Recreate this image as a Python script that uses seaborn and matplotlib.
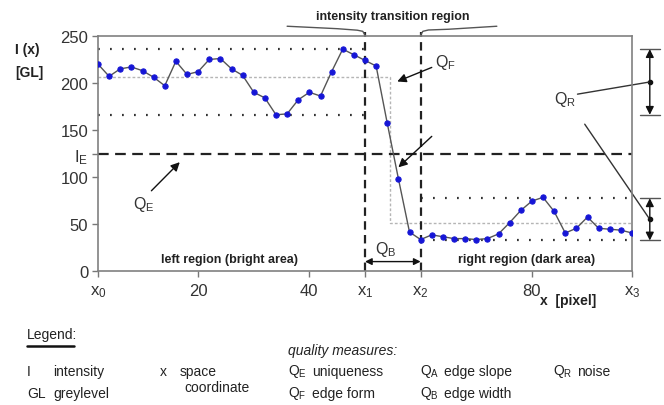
import matplotlib
matplotlib.use("Agg")
import matplotlib.pyplot as plt
import seaborn as sns
from matplotlib.lines import Line2D

sns.set_style("ticks")
plt.rcParams['font.family'] = ['Liberation Sans', 'DejaVu Sans']
plt.rcParams['mathtext.fontset'] = 'custom'
plt.rcParams['mathtext.rm'] = 'Liberation Sans'
plt.rcParams['mathtext.it'] = 'Liberation Sans:italic'
plt.rcParams['mathtext.bf'] = 'Liberation Sans:bold'

# Grey level profile across the edge
pixel = list(range(2, 99, 2))
intensity = [220, 207, 215, 217, 213, 206, 197, 223, 209, 212,
             225, 226, 215, 208, 190, 184, 166, 167, 182, 190,
             186, 212, 236, 230, 224, 218, 157, 98, 41, 33,
             38, 36, 34, 34, 33, 34, 39, 51, 64, 74,
             78, 63, 40, 45, 57, 45, 44, 43, 40]

# region borders and levels
x0, x1, x2, x3 = 2, 50, 60, 98
step_x = 54.5
left_max, left_mean, left_min = 236, 206, 166
right_max, right_mean, right_min = 77, 50.5, 32
edge_level = 124

x_ticks = [x0, 20, 40, x1, x2, 80, x3]
x_labels = ['x$_0$', '20', '40', 'x$_1$', 'x$_2$', '80', 'x$_3$']
y_ticks = [0, 50, 100, edge_level, 150, 200, 250]
y_labels = ['0', '50', '100', 'I$_\\mathrm{E}$', '150', '200', '250']

W, H = 664, 406
fig = plt.figure(figsize=(W / 100, H / 100), dpi=100)
ax = fig.add_axes([98 / W, 1 - 271.5 / H, 534 / W, 234.5 / H])

def fx(px):
    return px / W

def fy(py):
    return 1 - py / H

dark = '#222222'
dots = (0, (0.8, 4.6))

# reference lines
ax.plot([x0, x1], [left_max, left_max], color='#333', lw=1.6, ls=dots)
ax.plot([x0, x1], [left_min, left_min], color='#333', lw=1.6, ls=dots)
ax.plot([x2, x3], [right_max, right_max], color='#333', lw=1.6, ls=dots)
ax.plot([x2, x3], [right_min, right_min], color='#333', lw=1.6, ls=dots)
ax.plot([x0, step_x, step_x, x3], [left_mean, left_mean, right_mean, right_mean],
        color='#b5b5b5', lw=1, ls=(0, (2, 1.5)))
ax.plot([x0, x3], [edge_level, edge_level], color=dark, lw=1.6, ls=(0, (4.8, 2.9)))
for xv in (x1, x2):
    ax.plot([xv, xv], [0, 254], color=dark, lw=1.6, ls=(0, (3.8, 2.4)), clip_on=False)

sns.lineplot(x=pixel, y=intensity, ax=ax, color='#555555', lw=1, marker='o',
             markersize=3.8, markerfacecolor='#1616d6', markeredgecolor='#1616d6',
             zorder=5)

ax.set_xlim(x0, x3)
ax.set_ylim(0, 250)
ax.set_xticks(x_ticks)
ax.set_xticklabels(x_labels)
ax.set_yticks(y_ticks)
ax.set_yticklabels(y_labels)
ax.tick_params(direction='out', length=4, width=1, color='#777', labelsize=12,
               labelcolor='#333', pad=3)
ax.tick_params(axis='x', pad=5)
for s in ax.spines.values():
    s.set_color('#808080')
    s.set_linewidth(1.2)

# annotations inside
bold = dict(fontsize=9, fontweight='bold', color=dark, ha='center', va='center')
ax.text(25.7, 12.5, 'left region (bright area)', **bold)
ax.text(79, 12.5, 'right region (dark area)', **bold)
ax.text(55, 271, 'intensity transition region', clip_on=False, **bold)

arrow = dict(arrowstyle='-|>', color='#111', lw=1, mutation_scale=13, shrinkA=0, shrinkB=0)
qtext = dict(fontsize=11.5, color='#333', ha='center', va='center')
ax.annotate('', xy=(55.8, 201.5), xytext=(62, 216.5), arrowprops=arrow)
ax.text(64.5, 223, 'Q$_\\mathrm{F}$', **qtext)
ax.annotate('', xy=(56, 110), xytext=(62, 143), arrowprops=arrow)
ax.annotate('', xy=(16.7, 115.5), xytext=(11.6, 85), arrowprops=arrow)
ax.text(10.3, 71, 'Q$_\\mathrm{E}$', **qtext)
ax.annotate('', xy=(x2, 9.5), xytext=(x1, 9.5),
            arrowprops=dict(arrowstyle='<|-|>', color='#111', lw=1, mutation_scale=10,
                            shrinkA=0, shrinkB=0))
ax.text(53.8, 23, 'Q$_\\mathrm{B}$', **qtext)
ax.text(86, 183, 'Q$_\\mathrm{R}$', **qtext)

# curly brace over transition region
ax.plot([36, 45, 48.6, 49.6, 50], [260.4, 257.8, 256.2, 255, 251],
        color='#555', lw=1, clip_on=False)
ax.plot([60, 60.4, 61.4, 65, 73.7], [251, 255, 256.4, 257.2, 260.4],
        color='#555', lw=1, clip_on=False)

# noise arrows on the right
xr = 101.2
for top, bot in ((left_max, left_min), (right_max, right_min)):
    ax.annotate('', xy=(xr, top), xytext=(xr, bot), annotation_clip=False,
                arrowprops=dict(arrowstyle='<|-|>', color='#111', lw=1,
                                mutation_scale=12, shrinkA=0, shrinkB=0))
    for lv in (top, bot):
        ax.plot([99.4, 103], [lv, lv], color='#555', lw=1, clip_on=False)
    mid = (top + bot) / 2
    ax.plot([xr], [mid], 'o', color='#111', ms=3, clip_on=False)
ax.plot([88.2, xr], [188, (left_max + left_min) / 2], color='#333', lw=1, clip_on=False)
ax.plot([89.5, xr], [156, (right_max + right_min) / 2], color='#333', lw=1, clip_on=False)

# axis titles
fig.text(fx(15), fy(50), 'I (x)', fontsize=10, fontweight='bold', color=dark, va='center')
fig.text(fx(15), fy(73), '[GL]', fontsize=10, fontweight='bold', color=dark, va='center')
fig.text(fx(540), fy(301), 'x  [pixel]', fontsize=10, fontweight='bold', color=dark, va='center')

# legend block
lt = dict(fontsize=10, color=dark, va='center')
fig.text(fx(27), fy(335), 'Legend:', **lt)
fig.add_artist(Line2D([fx(27), fx(74)], [fy(347), fy(347)], color='#111', lw=1.8))
fig.text(fx(27), fy(372), 'I', **lt)
fig.text(fx(53), fy(372), 'intensity', **lt)
fig.text(fx(27), fy(394), 'GL', **lt)
fig.text(fx(53), fy(394), 'greylevel', **lt)
fig.text(fx(160), fy(372), 'x', **lt)
fig.text(fx(180), fy(372), 'space', **lt)
fig.text(fx(184), fy(388), 'coordinate', **lt)
fig.text(fx(288), fy(351), 'quality measures:', fontstyle='italic', **lt)
rows = [(288, 372, 'Q$_\\mathrm{E}$', 'uniqueness'), (288, 394, 'Q$_\\mathrm{F}$', 'edge form'),
        (420, 372, 'Q$_\\mathrm{A}$', 'edge slope'), (420, 394, 'Q$_\\mathrm{B}$', 'edge width'),
        (553, 372, 'Q$_\\mathrm{R}$', 'noise')]
for px, py, sym, name in rows:
    fig.text(fx(px), fy(py), sym, **lt)
    fig.text(fx(px + 24), fy(py), name, **lt)

fig.savefig('out.png', dpi=100, facecolor='white')
